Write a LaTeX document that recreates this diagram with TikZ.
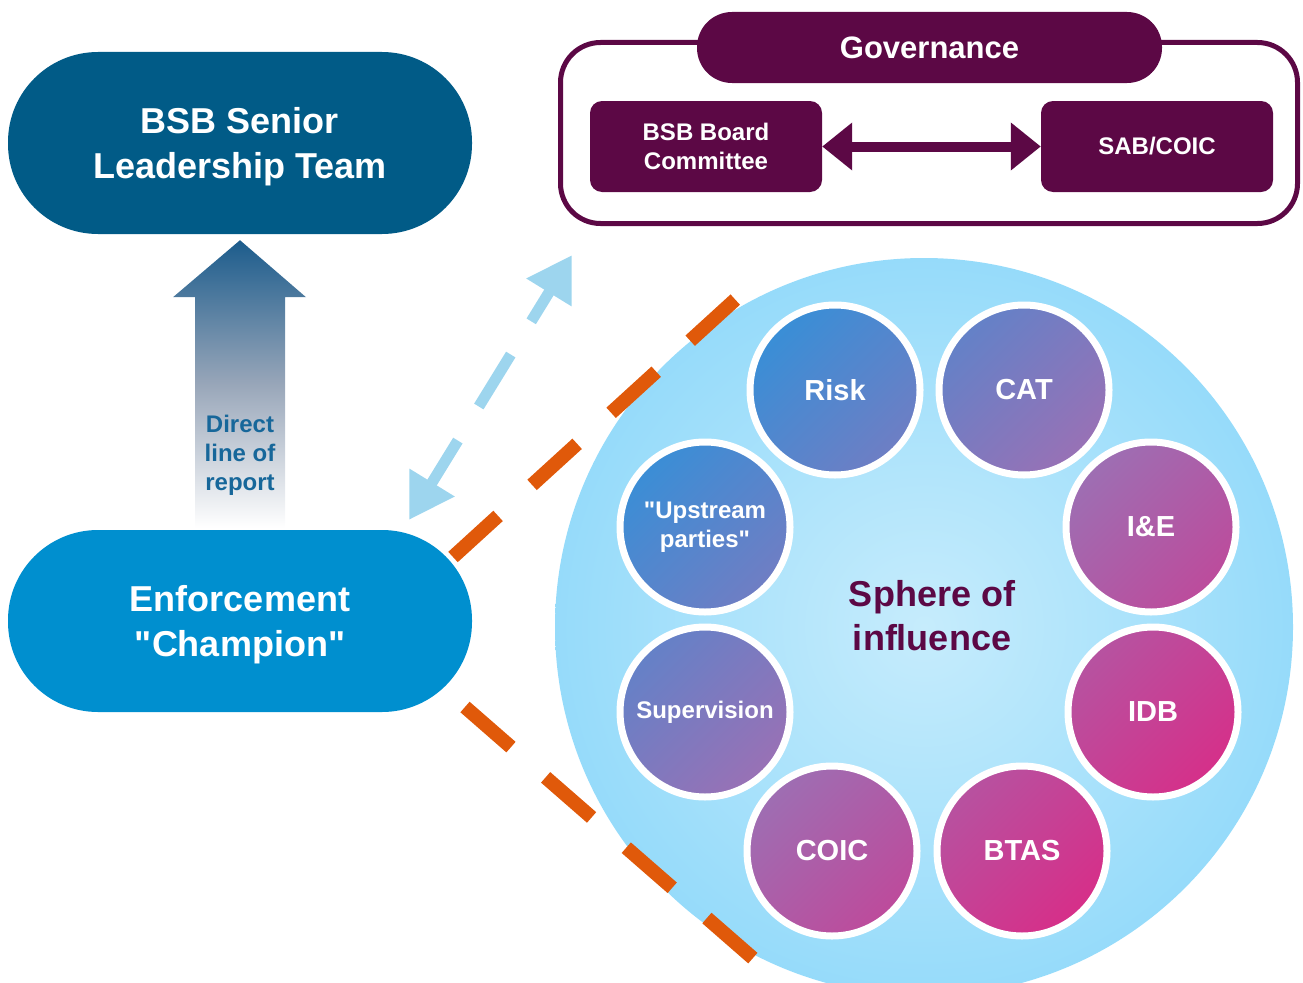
\documentclass[tikz,border=0pt]{standalone}
\usepackage{fontspec}
\setmainfont{Liberation Sans}
\usetikzlibrary{arrows.meta,calc,positioning}
\definecolor{sltblue}{HTML}{015B87}
\definecolor{champblue}{HTML}{008FCF}
\definecolor{govpurple}{HTML}{5C0845}
\definecolor{linkblue}{HTML}{9DD5EE}
\definecolor{dashorange}{HTML}{E0590A}
\definecolor{reportblue}{HTML}{17679A}
\definecolor{arrowtop}{HTML}{1C5C8C}
\definecolor{arrowmid}{HTML}{98A6B9}
\definecolor{sphereedge}{HTML}{96DBFA}
\definecolor{spherecore}{HTML}{C6ECFC}
\definecolor{bubbleblue}{HTML}{3A8ED6}
\definecolor{bubblemid}{HTML}{9C70B4}
\definecolor{bubblepink}{HTML}{D62F89}

\begin{document}
\begin{tikzpicture}[x=1pt,y=-1pt]

	\tikzstyle{pill}=[rectangle,rounded corners=90pt,minimum width=464pt,minimum height=182pt,text depth=0pt,text=white,align=center,font=\bfseries\fontsize{36}{45}\selectfont]
	\tikzstyle{govbox}=[rectangle,fill=govpurple,rounded corners=12pt,minimum width=232pt,minimum height=91pt,text=white,align=center,font=\bfseries\fontsize{24}{29}\selectfont]
	\tikzstyle{bubble}=[circle,draw=white,line width=7pt,minimum size=170pt,inner sep=0pt,text=white,align=center,font=\bfseries\fontsize{29}{34}\selectfont]
	\tikzstyle{bubblesmall}=[font=\bfseries\fontsize{24}{29}\selectfont]
	\tikzstyle{dashline}=[dashorange,line width=14pt,dash pattern=on 61pt off 46pt]

	\useasboundingbox (0,0) rectangle (1303,982);
	\clip (0,0) rectangle (1303,982);

	\node [circle,minimum size=738pt,inner sep=0pt,shade,inner color=spherecore,outer color=sphereedge] (sphere) at (924,627) {};

	\coordinate (c1) at (835,390);
	\coordinate (c2) at (1024,390);
	\coordinate (c3) at (1151,527);
	\coordinate (c4) at (1153,712);
	\coordinate (c5) at (1022,851);
	\coordinate (c6) at (832,851);
	\coordinate (c7) at (705,712);
	\coordinate (c8) at (705,527);

	\shade [top color=bubbleblue,bottom color=bubblepink,middle color=bubblemid,shading angle=45]
		(c1) circle[radius=85pt] (c2) circle[radius=85pt] (c3) circle[radius=85pt] (c4) circle[radius=85pt]
		(c5) circle[radius=85pt] (c6) circle[radius=85pt] (c7) circle[radius=85pt] (c8) circle[radius=85pt];

	\node [bubble] (risk) at (c1) {Risk};
	\node [bubble] (cat) at (c2) {CAT};
	\node [bubble] (ie) at (c3) {I\&E};
	\node [bubble] (idb) at (c4) {IDB};
	\node [bubble] (btas) at (c5) {BTAS};
	\node [bubble] (coic) at (c6) {COIC};
	\node [bubble,bubblesmall] (supervision) at (c7) {Supervision};
	\node [bubble,bubblesmall] (upstream) at (c8) {\textquotedbl Upstream\\parties\textquotedbl};

	\node [text=govpurple,align=center,font=\bfseries\fontsize{36}{44}\selectfont] (influence) at (932,616) {Sphere of\\influence};

	\node [draw=govpurple,line width=5pt,rounded corners=40pt,minimum width=737pt,minimum height=181pt] (govframe) at (929,133) {};
	\node [fill=govpurple,rounded corners=35pt,minimum width=465pt,minimum height=71pt,text=white,font=\bfseries\fontsize{31}{36}\selectfont] (gov) at (929.5,47.5) {Governance};
	\node [govbox] (board) at (706,146.5) {BSB Board\\Committee};
	\node [govbox] (sab) at (1157,146.5) {SAB/COIC};
	\draw [govpurple,line width=10pt,{Triangle[width=46pt,length=30pt]}-{Triangle[width=46pt,length=30pt]}] (board) -- (sab);

	\node [pill,fill=sltblue] (slt) at (240,143) {BSB Senior\\Leadership Team};
	\node [pill,fill=champblue] (champ) at (240,621) {Enforcement\\\textquotedbl Champion\textquotedbl};

	\coordinate (rtip) at ($(slt.south)+(0,6)$);
	\coordinate (rfoot) at ($(champ.north)+(0,-2)$);
	\shade [top color=arrowtop,bottom color=white,middle color=arrowmid]
		($(rfoot)+(-45,0)$) -- ($(rtip)+(-45,57)$) -- ($(rtip)+(-67,57)$) -- (rtip)
		-- ($(rtip)+(66,57)$) -- ($(rtip)+(45,57)$) -- ($(rfoot)+(45,0)$) -- cycle;
	\node [text=reportblue,align=center,font=\bfseries\fontsize{24}{29}\selectfont] (report) at (240,455) {Direct\\line of\\report};

	\coordinate (lnk1) at (409,520);
	\coordinate (lnk2) at (572,255);
	\draw [linkblue,line width=11pt,dash pattern=on 52pt off 40pt on 61pt off 39pt on 60pt,{Triangle[width=50pt,length=44pt]}-{Triangle[width=50pt,length=44pt]}] (lnk1) -- (lnk2);

	\coordinate (o1) at (453,557);
	\coordinate (o2) at (737,298);
	\coordinate (o3) at (465,707);
	\coordinate (o4) at (755,960);
	\draw [dashline] (o1) -- (o2);
	\draw [dashline] (o3) -- (o4);

\end{tikzpicture}
\end{document}
